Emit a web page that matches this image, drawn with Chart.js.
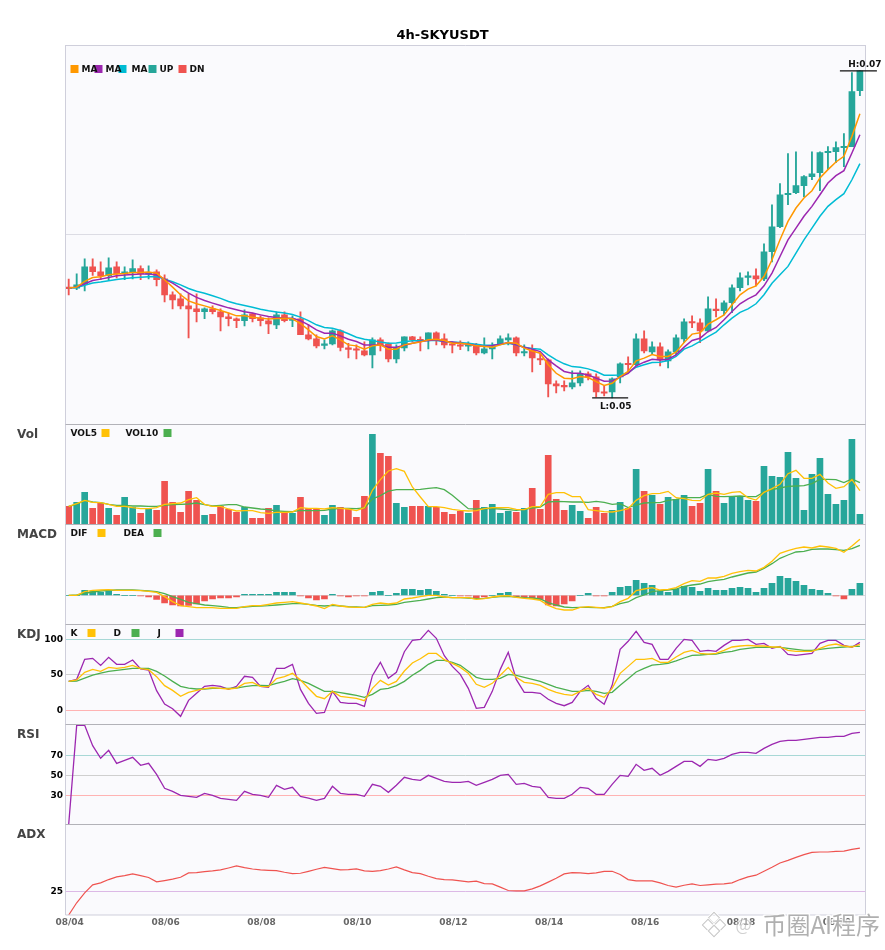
<!DOCTYPE html>
<html>
<head>
<meta charset="utf-8">
<style>html,body{margin:0;padding:0;background:#fff}canvas{display:block}</style>
<script src="https://cdn.jsdelivr.net/npm/chart.js@4/dist/chart.umd.min.js"></script>
</head>
<body>
<canvas id="c" width="885" height="950"></canvas>
<script>
const chartTitle = '4h-SKYUSDT';
const dateLabels = ['08/04','08/06','08/08','08/10','08/12','08/14','08/16','08/18','08/20'];
const dateIndex = [0,12,24,36,48,60,72,84,96];
const openP = [.05674,.05673,.05700,.05804,.05773,.05749,.05804,.05761,.05767,.05792,
.05759,.05773,.05730,.05632,.05607,.05564,.05546,.05528,.05546,.05528,
.05497,.05485,.05473,.05515,.05491,.05473,.05448,.05509,.05475,.05485,
.05387,.05362,.05321,.05331,.05411,.05307,.05301,.05288,.05264,.05356,
.05331,.05239,.05307,.05374,.05356,.05356,.05399,.05362,.05329,.05325,
.05317,.05325,.05276,.05301,.05331,.05356,.05368,.05276,.05295,.05239,
.05233,.05086,.05074,.05068,.05092,.05147,.05129,.05035,.05037,.05129,
.05209,.05203,.05362,.05282,.05313,.05227,.05282,.05362,.05466,.05460,
.05411,.05544,.05534,.05583,.05675,.05738,.05749,.05730,.05896,.06049,
.06245,.06258,.06301,.06356,.06380,.06503,.06509,.06534,.06540,.06883];
const highP = [.05728,.05761,.05853,.05853,.05834,.05859,.05834,.05804,.05847,.05810,
.05810,.05785,.05755,.05650,.05638,.05638,.05638,.05552,.05564,.05546,
.05520,.05491,.05540,.05520,.05503,.05491,.05528,.05528,.05503,.05528,
.05448,.05387,.05356,.05417,.05417,.05335,.05325,.05344,.05368,.05368,
.05337,.05325,.05374,.05378,.05374,.05399,.05405,.05393,.05344,.05350,
.05344,.05335,.05368,.05337,.05380,.05393,.05374,.05325,.05325,.05276,
.05239,.05104,.05104,.05166,.05166,.05160,.05147,.05074,.05123,.05215,
.05252,.05393,.05411,.05344,.05338,.05294,.05387,.05485,.05503,.05485,
.05620,.05607,.05595,.05693,.05767,.05773,.05791,.05945,.06184,.06313,
.06497,.06509,.06362,.06509,.06509,.06540,.06570,.06620,.06994,.07004];
const lowP = [.05632,.05663,.05656,.05751,.05724,.05724,.05736,.05724,.05730,.05724,
.05730,.05687,.05589,.05546,.05546,.05368,.05466,.05485,.05515,.05411,
.05442,.05430,.05442,.05466,.05442,.05393,.05424,.05466,.05436,.05387,
.05356,.05307,.05301,.05325,.05288,.05245,.05239,.05258,.05184,.05288,
.05221,.05215,.05288,.05344,.05288,.05301,.05325,.05307,.05276,.05295,
.05288,.05264,.05270,.05239,.05325,.05325,.05258,.05258,.05160,.05203,
.05006,.05031,.05043,.05055,.05074,.05110,.05006,.05012,.05000,.05092,
.05160,.05196,.05276,.05270,.05196,.05184,.05264,.05338,.05430,.05338,
.05405,.05497,.05509,.05522,.05656,.05693,.05687,.05718,.05834,.06043,
.06184,.06252,.06233,.06337,.06270,.06399,.06442,.06417,.06540,.06853];
const closeP = [.05670,.05693,.05804,.05773,.05749,.05798,.05761,.05773,.05792,.05761,
.05767,.05724,.05632,.05601,.05564,.05546,.05528,.05546,.05528,.05497,
.05485,.05473,.05509,.05485,.05473,.05454,.05509,.05473,.05483,.05387,
.05362,.05319,.05331,.05411,.05309,.05297,.05292,.05264,.05356,.05327,
.05239,.05307,.05374,.05356,.05350,.05399,.05356,.05325,.05323,.05317,
.05325,.05276,.05301,.05313,.05362,.05368,.05276,.05284,.05245,.05233,
.05086,.05074,.05068,.05092,.05147,.05129,.05037,.05029,.05117,.05209,
.05203,.05362,.05288,.05313,.05233,.05282,.05368,.05466,.05460,.05411,
.05546,.05534,.05583,.05675,.05736,.05749,.05730,.05896,.06049,.06245,
.06252,.06301,.06356,.06374,.06503,.06509,.06534,.06540,.06877,.07004];
const ma1 = [.05673,.05679,.05714,.05738,.05742,.05755,.05759,.05763,.05769,.05769,
.05771,.05765,.05724,.05679,.05632,.05595,.05577,.05564,.05550,.05536,
.05520,.05503,.05503,.05495,.05489,.05483,.05487,.05489,.05485,.05456,
.05417,.05376,.05362,.05380,.05356,.05325,.05319,.05299,.05319,.05325,
.05299,.05299,.05325,.05335,.05342,.05356,.05360,.05352,.05335,.05335,
.05329,.05319,.05315,.05311,.05325,.05339,.05335,.05305,.05288,.05274,
.05203,.05151,.05121,.05117,.05131,.05125,.05100,.05076,.05090,.05131,
.05162,.05227,.05244,.05266,.05254,.05254,.05282,.05340,.05391,.05399,
.05452,.05479,.05509,.05571,.05632,.05667,.05687,.05744,.05847,.05969,
.06082,.06164,.06225,.06270,.06348,.06399,.06446,.06481,.06603,.06742];
const ma2 = [.05673,.05679,.05700,.05720,.05728,.05738,.05749,.05753,.05757,.05759,
.05759,.05755,.05728,.05704,.05673,.05642,.05616,.05597,.05581,.05566,
.05552,.05540,.05528,.05520,.05509,.05499,.05493,.05489,.05489,.05474,
.05448,.05417,.05397,.05397,.05380,.05360,.05346,.05325,.05325,.05325,
.05311,.05311,.05323,.05335,.05346,.05352,.05356,.05346,.05342,.05335,
.05329,.05321,.05315,.05321,.05329,.05339,.05325,.05311,.05299,.05284,
.05233,.05196,.05162,.05151,.05151,.05141,.05121,.05102,.05104,.05127,
.05151,.05196,.05219,.05237,.05233,.05237,.05264,.05311,.05352,.05366,
.05407,.05432,.05479,.05530,.05577,.05607,.05632,.05687,.05765,.05867,
.05969,.06041,.06113,.06174,.06245,.06317,.06362,.06393,.06501,.06613];
const ma3 = [.05673,.05677,.05691,.05704,.05710,.05718,.05726,.05732,.05736,.05740,
.05742,.05744,.05728,.05712,.05693,.05671,.05654,.05642,.05626,.05610,
.05591,.05577,.05566,.05556,.05544,.05534,.05526,.05520,.05511,.05495,
.05474,.05448,.05432,.05427,.05413,.05393,.05372,.05360,.05352,.05342,
.05335,.05337,.05344,.05350,.05350,.05352,.05352,.05346,.05342,.05340,
.05335,.05329,.05323,.05323,.05329,.05335,.05325,.05311,.05303,.05299,
.05264,.05233,.05209,.05192,.05188,.05178,.05162,.05139,.05139,.05141,
.05155,.05188,.05203,.05217,.05219,.05229,.05254,.05299,.05319,.05346,
.05376,.05403,.05448,.05489,.05524,.05546,.05577,.05632,.05703,.05755,
.05806,.05888,.05969,.06041,.06113,.06174,.06215,.06252,.06337,.06436];
const vol = [56,68,98,50,65,50,29,83,53,35,
47,44,131,68,38,101,74,29,32,56,
47,38,53,20,20,50,59,38,35,83,
50,50,29,59,53,50,23,86,272,215,
206,65,53,56,56,56,53,38,32,41,
35,74,53,62,35,41,38,50,110,47,
209,77,44,59,41,20,53,35,44,68,
50,167,101,89,62,83,77,89,56,65,
167,101,65,86,83,74,71,176,146,143,
218,140,44,152,200,92,62,74,257,32];
const vol5 = [56,64,74,68,67,62,56,56,52,49,
49,52,62,64,66,76,82,62,56,56,
48,42,43,43,37,35,38,38,39,52,
50,50,48,52,50,48,43,52,104,136,
162,169,161,114,84,55,55,52,47,44,
42,43,49,52,52,52,47,46,55,55,
92,97,97,85,85,46,43,40,39,43,
49,74,88,94,95,101,82,79,74,73,
92,96,92,98,100,82,75,98,109,122,
154,164,140,140,152,126,110,115,136,103];
const vol10 = [56,62,74,69,67,62,59,59,57,57,
56,56,59,61,62,63,66,61,57,59,
61,61,54,51,48,46,42,41,40,44,
43,43,44,48,50,50,49,51,78,88,
102,106,106,106,107,110,112,106,89,69,
49,48,49,49,48,46,44,47,51,54,
69,71,70,69,69,68,71,68,62,64,
52,60,66,67,67,74,77,82,82,82,
92,86,85,86,87,85,85,99,106,111,
116,117,118,124,137,137,136,127,138,127];
const dif = [0,0,11,15,16,17,15,15,15,14,
12,9,-4,-19,-31,-34,-37,-37,-37,-39,
-39,-39,-34,-31,-31,-27,-23,-21,-19,-23,
-27,-32,-40,-27,-32,-35,-36,-36,-27,-23,
-26,-23,-11,-8,-4,0,0,-5,-7,-7,
-7,-12,-10,-5,-2,-1,-6,-9,-11,-15,
-30,-40,-44,-44,-36,-34,-36,-38,-34,-19,
-9,14,19,23,16,18,23,35,44,42,
52,52,57,66,71,75,73,84,102,126,
134,141,145,142,148,145,141,129,148,168];
const dea = [0,1,6,10,13,15,16,16,16,15,
13,11,5,-4,-12,-21,-25,-29,-31,-33,
-36,-37,-35,-33,-32,-31,-29,-27,-25,-25,
-27,-30,-32,-30,-32,-34,-35,-36,-31,-30,
-29,-27,-21,-18,-15,-11,-7,-5,-7,-7,
-8,-10,-9,-6,-4,-3,-5,-7,-8,-11,
-22,-29,-35,-37,-36,-36,-37,-37,-33,-25,
-20,-7,1,11,14,16,19,27,31,34,
41,45,48,55,61,67,70,81,95,111,
121,130,132,138,139,139,137,135,140,150];
const hist = [0,0,15,12,9,12,3,0,0,-2,
-5,-12,-23,-29,-32,-30,-26,-17,-11,-8,
-8,-5,3,3,3,3,9,9,9,-2,
-8,-14,-11,3,-2,-5,-2,-2,9,12,
0,6,18,18,15,18,12,3,0,-2,
-2,-8,-5,0,6,9,-4,-6,-9,-12,
-29,-32,-26,-17,0,6,-2,-2,9,24,
27,45,36,30,12,9,18,27,24,12,
21,15,15,21,24,21,9,21,36,57,
51,42,30,18,15,6,-2,-11,18,36];
const kLine = [40.8,42.7,53.5,57.7,54.9,60.5,59.1,60.5,63.4,58.7,
57.3,47.4,34.7,28.1,19.7,25.3,28.1,30.5,31.9,31.0,
30.0,31.4,38.0,39.4,33.8,33.3,44.6,47.4,52.1,42.7,
31.0,19.7,16.4,26.7,19.7,18.3,16.9,13.6,31.0,42.2,
35.6,40.8,55.4,66.6,72.7,80.2,80.2,71.3,66.2,60.5,
52.1,36.6,32.4,38.0,49.3,60.5,46.4,39.4,38.0,35.2,
29.5,25.3,22.5,21.1,26.7,31.0,22.5,18.3,31.0,52.1,
61.9,71.8,71.8,73.2,67.6,67.6,75.1,81.7,84.5,80.2,
79.3,80.2,84.5,89.2,90.6,91.5,90.6,90.6,89.2,89.2,
84.5,83.1,83.1,83.1,87.3,91.5,93.4,90.6,89.2,92.9];
const dLine = [40.8,41.3,45.5,49.7,52.5,54.9,56.3,57.7,59.1,59.1,
59.1,54.9,48.3,40.8,33.8,31.4,30.0,30.0,31.0,31.0,
31.0,31.4,33.3,34.7,35.2,34.7,38.0,40.8,44.6,42.2,
38.0,32.4,26.7,26.7,24.9,23.0,21.1,18.3,22.5,29.5,
31.0,34.7,40.8,49.3,56.3,64.8,70.4,70.4,67.6,63.4,
54.9,46.4,43.6,43.6,45.0,50.7,49.3,46.4,43.6,40.8,
36.6,32.4,29.5,26.7,26.7,28.1,26.7,23.9,25.3,35.2,
44.6,54.0,59.1,63.8,64.8,66.2,69.5,73.7,77.4,77.9,
78.8,79.3,81.7,83.1,85.9,87.3,88.7,88.7,88.7,88.7,
87.3,85.9,84.5,84.5,85.9,87.3,88.2,89.2,90.1,90.1];
const jLine = [40.8,43.6,71.8,73.2,63.3,74.6,64.8,64.8,70.9,58.2,
56.8,27.7,8.9,2.3,-8.5,14.0,23.9,33.8,35.2,33.8,
29.5,33.8,47.9,46.4,33.8,32.4,59.1,59.1,64.8,29.5,
9.8,-4.3,-2.9,26.7,11.2,9.8,9.8,5.6,48.8,67.6,
45.0,53.5,82.6,98.6,100.0,112.6,101.4,77.0,61.9,50.7,
31.0,2.8,4.2,26.7,57.7,81.7,43.6,25.3,25.3,23.9,
15.5,9.8,6.5,11.2,26.7,35.2,16.9,8.4,35.2,85.9,
97.2,111.2,95.7,92.9,71.8,71.8,87.3,100.0,98.6,83.1,
84.5,83.1,91.5,98.6,98.6,100.0,92.9,94.3,87.3,90.1,
78.8,77.4,78.8,80.2,94.3,98.6,98.6,91.5,88.7,95.7];
const rsi = [1,100,100,79.7,67,75,62,65,68,60,
62,51,37,34,30,29,28,32,30,27,
26,25,34,31,30,28,40,36,38,29,
27.3,25,27,39,32,31,31,29,41,39,
33,40,48,46,45,50,47,44,43,43,
44,40,43,46,50,51,41,42,39,38,
28,27,27,31,38,37,31,31,41,50,
49,61,55,57,50,54,59,64,64,59,
66,65,67,71,73,73,72,77,81,84,
85,85,86,87,88,88,89,89,92,93];
const adx = [0,13.2,23.9,32.5,34.6,38.2,41.1,42.5,44.3,42.5,
40.4,35.7,37.1,38.6,40.7,45.4,45.7,46.8,47.5,48.6,
50.7,52.9,51.1,49.6,48.6,48.2,47.9,46.1,44.6,45.0,
47.1,49.3,51.4,50.0,48.6,48.9,49.6,47.5,47.1,47.9,
49.6,51.8,48.6,45.7,44.6,41.8,39.3,38.2,37.9,36.8,
35.7,36.4,33.9,33.6,30.0,26.4,26.1,26.1,28.2,31.4,
35.4,39.6,44.3,45.7,45.4,44.6,45.4,47.1,47.1,43.6,
38.2,36.8,36.8,36.8,34.6,31.8,30.0,32.1,33.6,31.8,
32.5,33.2,33.6,34.6,38.2,41.1,42.9,47.1,51.4,56.1,
58.9,62.1,65.0,67.5,67.9,67.9,68.6,68.9,70.7,72.1];

const UP='#26a69a', DN='#ef5350', C_MA1='#ff9800', C_MA2='#9c27b0', C_MA3='#00bcd4', C_Y='#ffc107', C_G='#4caf50';
const FONT='"DejaVu Sans"';
const isUp = closeP.map((c,i)=>c>=openP[i]);
const candleColor = isUp.map(u=>u?UP:DN);
const xy = arr => arr.map((y,x)=>({x,y}));
const lineDs = (label,data,color,yAxisID,width)=>({type:'line',label,data:xy(data),borderColor:color,backgroundColor:color,borderWidth:width,pointRadius:0,tension:0,yAxisID,order:1});

const yBase = (weight,min,max,ticks,gridColors)=>({
  type:'linear',position:'left',stack:'panes',stackWeight:weight,min,max,offset:false,
  border:{display:false},
  grid:{display:ticks.length>0,drawTicks:false,lineWidth:1,color:c=>gridColors[ticks.indexOf(c.tick&&c.tick.value)]||'transparent'},
  ticks:{display:false,padding:2.5,color:'#000',font:{family:FONT,size:9,weight:'bold'}},
  afterBuildTicks:s=>{s.ticks=ticks.map(value=>({value}));},
  afterFit:s=>{s.width=65.5;}
});
const withLabels = o=>{o.ticks.display=true;return o;};

const panes = [
  {id:'yMain',name:null},
  {id:'yVol',name:'Vol',legend:[['VOL5',5,36,C_Y],['VOL10',60,98,C_G]]},
  {id:'yMacd',name:'MACD',legend:[['DIF',5,32,C_Y],['DEA',58,88,C_G]]},
  {id:'yKdj',name:'KDJ',legend:[['K',5,22,C_Y],['D',48,66,C_G],['J',92,110,C_MA2]]},
  {id:'yRsi',name:'RSI'},
  {id:'yAdx',name:'ADX'}
];
const mainLegend=[['MA',5,16,C_MA1],['MA',29,40,C_MA2],['MA',53,66,C_MA3],['UP',83,94,UP],['DN',113,124,DN]];

const decor = {
  id:'decor',
  beforeDraw(chart){
    const a=chart.chartArea,ctx=chart.ctx;
    ctx.save();ctx.fillStyle='#fafafd';ctx.fillRect(a.left,a.top,a.right-a.left,a.bottom-a.top);ctx.restore();
  },
  afterDraw(chart){
    const a=chart.chartArea,ctx=chart.ctx,S=chart.scales;
    ctx.save();
    ctx.lineWidth=1;
    ctx.strokeStyle='#cfcfdb';
    ctx.beginPath();ctx.moveTo(a.left,a.top+.5);ctx.lineTo(a.right,a.top+.5);
    ctx.moveTo(a.left,a.bottom);ctx.lineTo(a.right,a.bottom);
    ctx.moveTo(a.left,a.top);ctx.lineTo(a.left,a.bottom);ctx.moveTo(a.right,a.top);ctx.lineTo(a.right,a.bottom);ctx.stroke();
    ctx.strokeStyle='#b2b2b8';
    ctx.beginPath();
    panes.slice(1).forEach(p=>{ctx.moveTo(a.left,S[p.id].top-.5);ctx.lineTo(a.right,S[p.id].top-.5);});
    ctx.stroke();
    ctx.textBaseline='middle';ctx.textAlign='left';
    panes.forEach(p=>{
      const top=S[p.id].top;
      if(p.name){ctx.font='bold 12px '+FONT;ctx.fillStyle='#444';ctx.fillText(p.name,17,top+10);}
      (p.legend||[]).forEach(([t,tx,sx,col])=>{
        ctx.font='bold 9px '+FONT;ctx.fillStyle='#111';ctx.fillText(t,a.left+tx,top+9);
        ctx.fillStyle=col;ctx.fillRect(a.left+sx,top+4,8,8);
      });
    });
    mainLegend.forEach(([t,sx,tx,col])=>{
      ctx.fillStyle=col;ctx.fillRect(a.left+sx,S.yMain.top+20,8,8);
    });
    mainLegend.forEach(([t,sx,tx,col])=>{
      ctx.font='bold 9px '+FONT;ctx.fillStyle='#111';ctx.fillText(t,a.left+tx,S.yMain.top+24.5);
    });
    const hi=Math.max(...highP), lo=Math.min(...lowP);
    const ih=highP.indexOf(hi), il=lowP.indexOf(lo);
    const px=S.x.getPixelForValue(ih), py=S.yMain.getPixelForValue(hi);
    const qx=S.x.getPixelForValue(il), qy=S.yMain.getPixelForValue(lo);
    ctx.strokeStyle='#111';ctx.lineWidth=1.2;ctx.beginPath();
    ctx.moveTo(px-20,py);ctx.lineTo(px+17,py);ctx.moveTo(qx-20,qy);ctx.lineTo(qx+16,qy);ctx.stroke();
    ctx.font='bold 9px '+FONT;ctx.fillStyle='#111';ctx.textAlign='center';
    ctx.fillText('H:'+hi.toFixed(2),px+5,py-6.5);
    ctx.fillText('L:'+lo.toFixed(2),qx+3.5,qy+9);
    // watermark
    const wx=a.left+697, wy=925;
    ctx.textAlign='left';ctx.lineJoin='round';
    ctx.strokeStyle='rgba(255,255,255,.85)';ctx.lineWidth=3;
    ctx.font='24px "Noto Sans CJK SC"';
    ctx.strokeText('币圈AI程序',wx,wy);
    ctx.fillStyle='rgba(150,150,150,.75)';ctx.fillText('币圈AI程序',wx,wy);
    ctx.font='17px "Noto Sans CJK SC"';
    ctx.strokeStyle='rgba(255,255,255,.45)';ctx.fillStyle='rgba(150,150,150,.45)';
    ctx.strokeText('@',wx-27,wy);ctx.fillText('@',wx-27,wy);
    const lx=714, ly=924;
    [[0,-6],[-6,1],[6,1],[0,7]].forEach(([dx,dy])=>{
      ctx.save();ctx.translate(lx+dx,ly+dy);ctx.rotate(Math.PI/4);
      ctx.strokeStyle='rgba(255,255,255,.85)';ctx.lineWidth=3;ctx.strokeRect(-4,-4,8,8);
      ctx.strokeStyle='rgba(170,170,170,.7)';ctx.lineWidth=1;ctx.strokeRect(-4,-4,8,8);
      ctx.restore();
    });
    ctx.restore();
  }
};

new Chart(document.getElementById('c'),{
  type:'bar',
  plugins:[decor],
  data:{datasets:[
    {label:'wick',yAxisID:'yMain',order:11,grouped:false,barThickness:1.2,backgroundColor:candleColor,
      data:highP.map((h,i)=>({x:i,y:[lowP[i],h]}))},
    {label:'body',yAxisID:'yMain',order:10,grouped:false,barThickness:6,minBarLength:1.4,backgroundColor:candleColor,
      data:openP.map((o,i)=>({x:i,y:[o,closeP[i]]}))},
    lineDs('MA1',ma1,C_MA1,'yMain',1.5),
    lineDs('MA2',ma2,C_MA2,'yMain',1.5),
    lineDs('MA3',ma3,C_MA3,'yMain',1.5),
    {label:'Vol',yAxisID:'yVol',order:10,grouped:false,barThickness:6,backgroundColor:candleColor,data:xy(vol)},
    lineDs('VOL5',vol5,C_Y,'yVol',1.3),
    lineDs('VOL10',vol10,C_G,'yVol',1.3),
    {label:'Hist',yAxisID:'yMacd',order:10,grouped:false,barThickness:6,backgroundColor:hist.map(v=>v>=0?UP:DN),data:xy(hist)},
    lineDs('DIF',dif,C_Y,'yMacd',1.3),
    lineDs('DEA',dea,C_G,'yMacd',1.3),
    lineDs('K',kLine,C_Y,'yKdj',1.3),
    lineDs('D',dLine,C_G,'yKdj',1.3),
    lineDs('J',jLine,C_MA2,'yKdj',1.3),
    lineDs('RSI',rsi,C_MA2,'yRsi',1.3),
    lineDs('ADX',adx,DN,'yAdx',1.2)
  ]},
  options:{
    responsive:false,animation:false,devicePixelRatio:1,
    layout:{padding:0},
    events:[],
    plugins:{
      legend:{display:false},tooltip:{enabled:false},
      title:{display:true,text:chartTitle,color:'#000',font:{family:FONT,size:13,weight:'bold'},padding:{top:28,bottom:1.4}}
    },
    scales:{
      x:{type:'linear',min:-0.4,max:99.7,offset:false,
        grid:{display:false,drawTicks:false},border:{display:false},
        ticks:{color:'#666',labelOffset:1,padding:2,autoSkip:false,maxRotation:0,minRotation:0,font:{family:FONT,size:9,weight:'bold'},
          callback:v=>dateLabels[dateIndex.indexOf(v)]},
        afterBuildTicks:s=>{s.ticks=dateIndex.map(value=>({value}));},
        afterFit:s=>{s.height=35;}
      },
      yPad:{type:'linear',position:'right',display:true,grid:{display:false},border:{display:false},ticks:{display:false},afterFit:s=>{s.width=19.5;}},
      yAdx:withLabels(yBase(90,0,97,[25],['#dcb9e6'])),
      yRsi:withLabels(yBase(100,0.33,100.33,[30,50,70],['#ffb3b3','#cfcfcf','#a8d8d6'])),
      yKdj:withLabels(yBase(100,-20.7,120.2,[0,50,100],['#ffb3b3','#cfcfcf','#a8d8d6'])),
      yMacd:yBase(100,-89,211,[0],['#d8d8d8']),
      yVol:yBase(100,0,300,[],[]),
      yMain:yBase(380,0.04834,0.07163,[0.06],['#dcdce4'])
    }
  }
});
</script>
</body>
</html>
